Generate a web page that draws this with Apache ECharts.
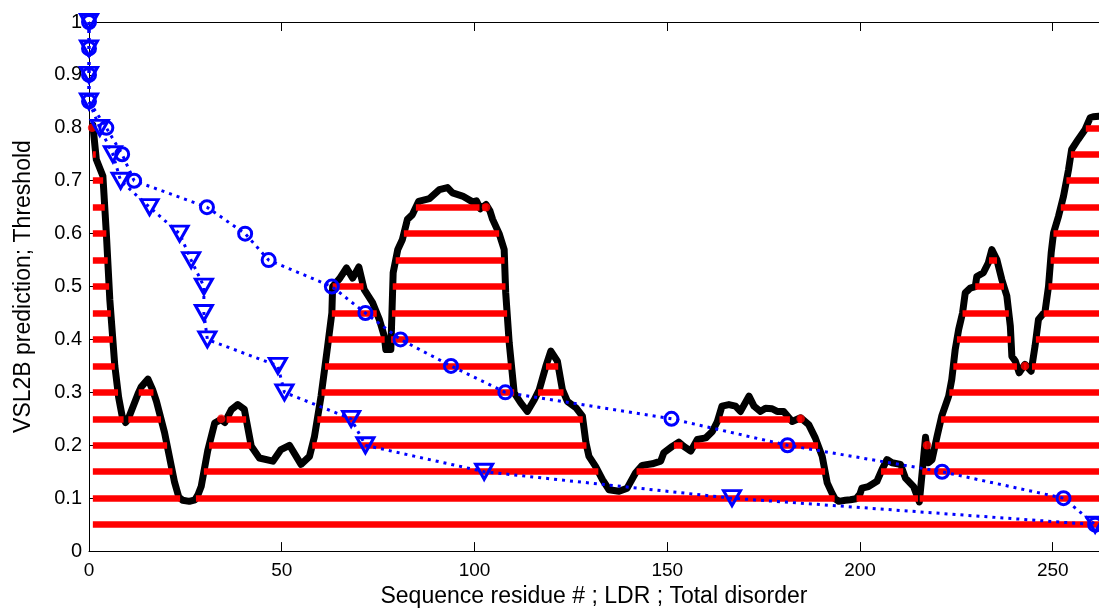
<!DOCTYPE html>
<html><head><meta charset="utf-8">
<script src="https://cdn.jsdelivr.net/npm/echarts@6/dist/echarts.min.js"></script>
<style>html,body{margin:0;padding:0;background:#fff}#c{width:1099px;height:613px}</style>
</head><body><div id="c"></div>
<script>
// VSL2B prediction along the sequence (residue position, score)
const residuePos = [1.0,1.9,3.6,4.5,5.4,6.7,7.7,8.6,9.5,10.2,12.7,13.5,15.3,16.5,17.5,19.6,22.2,23.3,24.3,26.0,27.5,28.3,29.1,30.8,32.6,34.3,35.2,36.9,38.6,40.3,42.1,44.2,47.7,49.8,52.0,55.0,57.2,58.5,60.2,61.9,63.0,63.2,65.0,66.8,68.4,70.0,71.4,73.6,75.3,76.6,77.0,78.3,78.9,80.1,81.3,82.6,83.9,85.5,88.3,90.9,93.0,94.3,96.9,99.5,100.5,101.5,103.0,104.0,104.7,106.4,107.7,108.1,109.0,110.3,112.0,113.7,115.5,116.8,118.5,119.8,121.5,122.8,124.1,126.3,128.0,128.9,129.7,131.4,133.2,134.9,137.5,139.6,141.8,143.5,146.1,148.3,149.1,151.3,153.0,154.3,156.1,157.8,160.0,161.7,163.0,163.5,164.2,166.0,167.7,169.0,171.2,172.5,174.2,175.5,177.2,178.5,180.2,182.4,184.6,186.7,188.4,190.2,191.5,192.7,193.5,194.5,196.2,197.5,199.0,200.0,200.5,202.2,204.4,205.7,207.0,208.3,210.5,211.8,213.9,215.4,217.0,217.8,218.7,220.0,221.2,223.0,223.8,224.7,225.6,226.6,227.3,228.6,229.9,230.3,232.0,233.3,234.2,235.5,236.8,238.1,239.0,239.4,240.3,241.3,242.8,244.4,245.4,246.3,248.0,248.9,249.6,250.2,251.5,252.8,254.1,254.9,256.6,258.4,259.7,260.5,262.0];
const vsl2b = [0.805,0.74,0.709,0.60,0.475,0.35,0.29,0.255,0.243,0.25,0.297,0.31,0.325,0.305,0.283,0.224,0.13,0.102,0.096,0.094,0.097,0.107,0.122,0.19,0.242,0.249,0.243,0.267,0.277,0.268,0.198,0.176,0.17,0.192,0.2,0.164,0.179,0.217,0.293,0.387,0.45,0.5,0.515,0.535,0.516,0.537,0.494,0.469,0.438,0.406,0.381,0.381,0.526,0.57,0.589,0.627,0.636,0.661,0.666,0.683,0.687,0.677,0.671,0.66,0.662,0.647,0.655,0.643,0.627,0.60,0.57,0.488,0.394,0.299,0.28,0.264,0.286,0.305,0.349,0.378,0.359,0.305,0.283,0.271,0.255,0.205,0.179,0.16,0.135,0.116,0.113,0.119,0.148,0.162,0.165,0.17,0.186,0.198,0.206,0.198,0.189,0.211,0.214,0.226,0.245,0.248,0.274,0.277,0.274,0.264,0.293,0.274,0.264,0.27,0.269,0.264,0.264,0.245,0.252,0.239,0.214,0.179,0.129,0.11,0.099,0.094,0.096,0.097,0.099,0.108,0.119,0.122,0.132,0.154,0.173,0.167,0.164,0.138,0.122,0.093,0.215,0.167,0.173,0.217,0.255,0.293,0.324,0.381,0.419,0.45,0.488,0.497,0.5,0.519,0.526,0.545,0.57,0.551,0.513,0.482,0.425,0.368,0.359,0.337,0.353,0.34,0.387,0.438,0.453,0.5,0.564,0.601,0.633,0.671,0.721,0.759,0.778,0.797,0.819,0.821,0.822];
// thresholds drawn as red disorder-region bars
const barThresholds = [0.05,0.1,0.15,0.2,0.25,0.3,0.35,0.4,0.45,0.5,0.55,0.6,0.65,0.7,0.75,0.8];
// single-residue regions (drawn as dots)
const dotX = [0.8,34.3,103.0,184.6,217.4,242.8];
const dotY = [0.8,0.25,0.65,0.25,0.2,0.35];
// threshold sweep
const sweepThreshold = [1,0.95,0.9,0.85,0.8,0.75,0.7,0.65,0.6,0.55,0.5,0.45,0.4,0.35,0.3,0.25,0.2,0.15,0.1,0.05];
const totalDisorder = [0,0,0,0,4.5,8.6,11.7,30.6,40.5,46.6,63.0,71.7,80.8,93.9,108.0,151.1,181.2,221.3,252.8,261.0];
const ldr = [0,0,0,0,2.8,6.2,8.2,15.7,23.5,26.5,29.8,29.8,30.7,49.0,50.7,68.0,71.7,102.5,166.8,261.0];
const xTicks = [0,50,100,150,200,250];
const yTicks = [0,0.1,0.2,0.3,0.4,0.5,0.6,0.7,0.8,0.9,1];

function regions(t){
  const segs=[]; let start=null; const n=residuePos.length;
  for(let i=0;i<n;i++){
    const above = vsl2b[i] > t;
    if(above && start===null){
      start = i===0 ? residuePos[0] : residuePos[i-1] + (t-vsl2b[i-1])*(residuePos[i]-residuePos[i-1])/(vsl2b[i]-vsl2b[i-1]);
    } else if(!above && start!==null){
      const end = residuePos[i-1] + (t-vsl2b[i-1])*(residuePos[i]-residuePos[i-1])/(vsl2b[i]-vsl2b[i-1]);
      segs.push([start,end]); start=null;
    }
  }
  if(start!==null) segs.push([start,residuePos[n-1]]);
  return segs;
}
const barData=[];
barThresholds.forEach(t=>{ regions(t).forEach(s=>{ if(s[1]-s[0]>0.3) barData.push({coords:[[s[0],t],[s[1],t]]}); }); });

const FONT = '"Liberation Sans", Arial, sans-serif';
const chart = echarts.init(document.getElementById('c'), null, {renderer:'canvas'});
chart.setOption({
  animation:false,
  backgroundColor:'#fff',
  grid:{left:89, top:22, width:1011, height:529.5, containLabel:false},
  xAxis:[{
    type:'value', min:0, max:262, position:'bottom',
    name:'Sequence residue # ; LDR ; Total disorder', nameLocation:'middle', nameGap:28,
    nameTextStyle:{color:'#000', fontSize:23, fontFamily:FONT},
    axisLine:{show:true, onZero:false, lineStyle:{color:'#000', width:1}},
    axisTick:{show:true, inside:true, length:9, customValues:xTicks, lineStyle:{color:'#000'}},
    axisLabel:{color:'#000', fontSize:19, fontFamily:FONT, margin:10, customValues:xTicks},
    splitLine:{show:false}
  },{
    type:'value', min:0, max:262, position:'top',
    axisLine:{show:true, onZero:false, lineStyle:{color:'#000', width:1}},
    axisTick:{show:true, inside:true, length:9, customValues:xTicks, lineStyle:{color:'#000'}},
    axisLabel:{show:false}, splitLine:{show:false}
  }],
  yAxis:{
    type:'value', min:0, max:1, interval:0.1,
    name:'VSL2B prediction; Threshold', nameLocation:'middle', nameGap:54, nameRotate:90,
    nameTextStyle:{color:'#000', fontSize:23, fontFamily:FONT},
    axisLine:{show:true, onZero:false, lineStyle:{color:'#000', width:1}},
    axisTick:{show:true, inside:true, length:5, customValues:yTicks, lineStyle:{color:'#000'}},
    axisLabel:{color:'#000', fontSize:20, fontFamily:FONT, margin:7, customValues:yTicks},
    splitLine:{show:false}
  },
  series:[
    {name:'VSL2B', type:'line', z:2, showSymbol:false, silent:true,
     data:residuePos.map((x,i)=>[x,vsl2b[i]]),
     lineStyle:{color:'#000', width:7, cap:'round', join:'round'}},
    {name:'Regions', type:'lines', coordinateSystem:'cartesian2d', z:3, silent:true,
     data:barData, lineStyle:{color:'#ff0000', width:6.5, opacity:1, cap:'butt'}},
    {name:'Single', type:'scatter', z:3, silent:true, symbol:'circle', symbolSize:8.5,
     data:dotX.map((x,i)=>[x,dotY[i]]), itemStyle:{color:'#ff0000'}},
    {name:'Total disorder', type:'line', z:4, clip:false, silent:true,
     data:totalDisorder.map((x,i)=>[x,sweepThreshold[i]]),
     symbol:'circle', symbolSize:13, showSymbol:true, showAllSymbol:true,
     itemStyle:{color:'rgba(0,0,0,0)', borderColor:'#0000ff', borderWidth:3},
     lineStyle:{color:'#0000ff', width:3, type:[3,5]}},
    {name:'LDR', type:'line', z:4, clip:false, silent:true,
     data:ldr.map((x,i)=>[x,sweepThreshold[i]]),
     symbol:'triangle', symbolRotate:180, symbolSize:[17,15], showSymbol:true, showAllSymbol:true,
     itemStyle:{color:'rgba(0,0,0,0)', borderColor:'#0000ff', borderWidth:3},
     lineStyle:{color:'#0000ff', width:3, type:[3,5]}}
  ]
});
</script></body></html>
